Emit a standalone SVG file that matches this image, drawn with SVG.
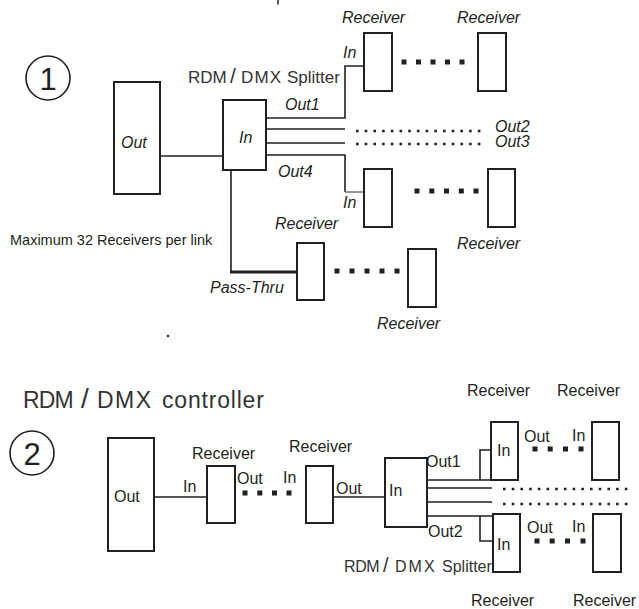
<svg xmlns="http://www.w3.org/2000/svg" width="639" height="609" viewBox="0 0 639 609">
<style>
text{font-family:"Liberation Sans",Arial,sans-serif;fill:#231f20;}
.i{font-style:italic;font-size:16px;}
.r{font-size:16px;}
.box{fill:#fff;stroke:#231f20;stroke-width:2;}
.ln{fill:none;stroke:#231f20;stroke-width:1.6;}
.sq{fill:#231f20;}
.dot{stroke:#231f20;stroke-width:2.6;stroke-dasharray:2.6 6.1;fill:none;}
.circ{fill:none;stroke:#231f20;stroke-width:1.6;}
.t{fill:#333;}
</style>
<rect width="639" height="609" fill="#fff"/>
<line x1="278" y1="0" x2="278" y2="4.5" stroke="#231f20" stroke-width="1.5"/>
<circle cx="168" cy="336" r="1.2" fill="#231f20"/>

<!-- ===== Section 1 ===== -->
<g id="num1"><circle class="circ" cx="48" cy="78" r="22"/><text x="48" y="90" font-size="31" text-anchor="middle">1</text></g>

<g id="connectors1">
  <line class="ln" x1="160" y1="156" x2="223" y2="156"/>
  <polyline class="ln" stroke-width="2" points="266,118 345,118 345,66 364,66"/>
  <line class="ln" x1="266" y1="129" x2="345" y2="129" stroke-width="2"/>
  <line class="ln" x1="266" y1="143" x2="345" y2="143" stroke-width="2"/>
  <polyline class="ln" points="266,155 345,155 345,192"/>
  <line x1="345" y1="192" x2="364" y2="192" stroke="#8a8a8a" stroke-width="1.8"/>
  <polyline class="ln" points="231,170 231,272"/>
  <line x1="230" y1="272" x2="297" y2="272" stroke="#231f20" stroke-width="3"/>
  <line class="dot" x1="356" y1="131" x2="482" y2="131"/>
  <line class="dot" x1="356" y1="144" x2="482" y2="144"/>
  <g class="sq">
    <rect x="401.5" y="59.5" width="5" height="5"/><rect x="416" y="59.5" width="5" height="5"/><rect x="430.5" y="59.5" width="5" height="5"/><rect x="445" y="59.5" width="5" height="5"/><rect x="459.5" y="59.5" width="5" height="5"/>
    <rect x="414.5" y="188.5" width="5" height="5"/><rect x="429.3" y="188.5" width="5" height="5"/><rect x="444" y="188.5" width="5" height="5"/><rect x="458.8" y="188.5" width="5" height="5"/><rect x="473.5" y="188.5" width="5" height="5"/>
    <rect x="334.5" y="268.5" width="5" height="5"/><rect x="349.5" y="268.5" width="5" height="5"/><rect x="364.5" y="268.5" width="5" height="5"/><rect x="379.5" y="268.5" width="5" height="5"/><rect x="394.5" y="268.5" width="5" height="5"/>
  </g>
</g>

<g id="controller1"><rect class="box" x="114" y="82" width="46" height="112"/><text class="i" x="121" y="148">Out</text></g>
<g id="splitter1">
  <rect class="box" x="223" y="100" width="43" height="70"/><text class="i" x="239" y="143">In</text>
  <text class="t" y="83" font-size="17"><tspan x="188">RDM</tspan><tspan x="230" font-size="21">/</tspan><tspan x="241" letter-spacing="1.2">DMX</tspan><tspan x="287">Splitter</tspan></text>
  <text class="i" x="285" y="110" font-size="15">Out1</text>
  <text class="i" x="278" y="177" font-size="15">Out4</text>
  <text class="i" x="495" y="132" font-size="14">Out2</text>
  <text class="i" x="495" y="147" font-size="14">Out3</text>
</g>
<g id="rx1a"><rect class="box" x="364" y="33" width="28" height="58"/><text class="i" x="342" y="23">Receiver</text><text class="i" x="343" y="58">In</text></g>
<g id="rx1b"><rect class="box" x="478" y="33" width="28" height="58"/><text class="i" x="457" y="23">Receiver</text></g>
<g id="rx1c"><rect class="box" x="364" y="169" width="28" height="58"/><text class="i" x="343" y="208">In</text></g>
<g id="rx1d"><rect class="box" x="488" y="169" width="27" height="58"/><text class="i" x="457" y="249">Receiver</text></g>
<g id="rx1e"><rect class="box" x="297" y="243" width="27" height="57"/><text class="i" x="275" y="229">Receiver</text><text class="i" x="210" y="293">Pass-Thru</text></g>
<g id="rx1f"><rect class="box" x="408" y="249" width="28" height="58"/><text class="i" x="377" y="329">Receiver</text></g>
<text x="10" y="245" font-size="14.5">Maximum 32 Receivers per link</text>

<!-- ===== Section 2 ===== -->
<text class="t" y="408" font-size="23"><tspan x="23" letter-spacing="-0.8">RDM</tspan><tspan x="81" font-size="28">/</tspan><tspan x="97" letter-spacing="1.5">DMX</tspan><tspan x="162" letter-spacing="0.8">controller</tspan></text>
<g id="num2"><circle class="circ" cx="32" cy="453" r="22"/><text x="32" y="465" font-size="31" text-anchor="middle">2</text></g>

<g id="connectors2">
  <line class="ln" x1="154" y1="497" x2="207" y2="497"/>
  <line class="ln" x1="333" y1="497" x2="385" y2="497"/>
  <line class="ln" x1="427" y1="480" x2="491" y2="480"/>
  <polyline class="ln" points="480,480 480,450 491,450"/>
  <line class="ln" x1="427" y1="488" x2="492" y2="488"/>
  <line class="ln" x1="427" y1="502" x2="492" y2="502"/>
  <line class="ln" x1="427" y1="516" x2="493" y2="516"/>
  <polyline class="ln" points="480,516 480,541 493,541"/>
  <line class="dot" x1="503" y1="489" x2="632" y2="489"/>
  <line class="dot" x1="503" y1="504" x2="632" y2="504"/>
  <g class="sq">
    <rect x="242.5" y="490.5" width="5" height="5"/><rect x="257.3" y="490.5" width="5" height="5"/><rect x="272" y="490.5" width="5" height="5"/><rect x="286.5" y="490.5" width="5" height="5"/>
    <rect x="532.5" y="446.5" width="5" height="5"/><rect x="547.7" y="446.5" width="5" height="5"/><rect x="563" y="446.5" width="5" height="5"/><rect x="578.5" y="446.5" width="5" height="5"/>
    <rect x="534.5" y="538.5" width="5" height="5"/><rect x="549.7" y="538.5" width="5" height="5"/><rect x="565" y="538.5" width="5" height="5"/><rect x="580.5" y="538.5" width="5" height="5"/>
  </g>
</g>

<g id="controller2"><rect class="box" x="108" y="438" width="46" height="113"/><text class="r" x="114" y="502">Out</text></g>
<g id="rx2a"><rect class="box" x="207" y="466" width="28" height="57"/><text class="r" x="192" y="459">Receiver</text><text class="r" x="183" y="492">In</text><text class="r" x="237" y="484">Out</text></g>
<g id="rx2b"><rect class="box" x="306" y="466" width="27" height="57"/><text class="r" x="289" y="452">Receiver</text><text class="r" x="283" y="483">In</text><text class="r" x="336" y="494">Out</text></g>
<g id="splitter2">
  <rect class="box" x="385" y="458" width="42" height="69"/><text class="r" x="389" y="496">In</text>
  <text class="r" x="426" y="467">Out1</text>
  <text class="r" x="428" y="537">Out2</text>
  <text class="t" y="572" font-size="16"><tspan x="344" letter-spacing="-0.4">RDM</tspan><tspan x="383" font-size="20">/</tspan><tspan x="395" letter-spacing="2">DMX</tspan><tspan x="442">Splitter</tspan></text>
</g>
<g id="rx2c"><rect class="box" x="491" y="422" width="27" height="58"/><text class="r" x="497" y="456">In</text><text class="r" x="467" y="396">Receiver</text><text class="r" x="524" y="442">Out</text></g>
<g id="rx2d"><rect class="box" x="592" y="422" width="27" height="58"/><text class="r" x="557" y="396">Receiver</text><text class="r" x="572" y="441">In</text></g>
<g id="rx2e"><rect class="box" x="493" y="514" width="27" height="58"/><text class="r" x="497" y="550">In</text><text class="r" x="471" y="606">Receiver</text><text class="r" x="527" y="533">Out</text></g>
<g id="rx2f"><rect class="box" x="593" y="514" width="28" height="58"/><text class="r" x="573" y="606">Receiver</text><text class="r" x="572" y="532">In</text></g>
</svg>
